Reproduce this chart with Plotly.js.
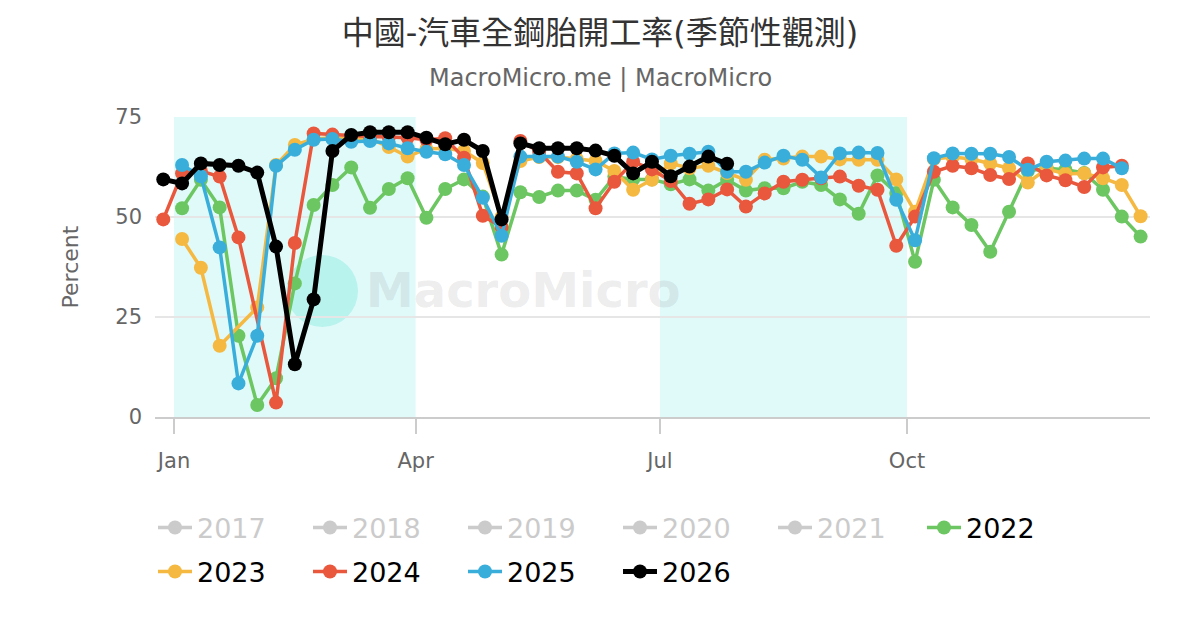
<!DOCTYPE html>
<html>
<head>
<meta charset="utf-8">
<script src="https://cdn.plot.ly/plotly-3.0.1.min.js"></script>
<style>
  html, body { margin: 0; padding: 0; background: #fff; }
  #chart { width: 1200px; height: 630px; }
</style>
</head>
<body>
<div id="chart"></div>
<script>
// weekly observation dates, all years folded onto one calendar
const weeks = [
  '2025-12-28', '2026-01-04', '2026-01-11', '2026-01-18', '2026-01-25',
  '2026-02-01', '2026-02-08', '2026-02-15', '2026-02-22', '2026-03-01',
  '2026-03-08', '2026-03-15', '2026-03-22', '2026-03-29', '2026-04-05',
  '2026-04-12', '2026-04-19', '2026-04-26', '2026-05-03', '2026-05-10',
  '2026-05-17', '2026-05-24', '2026-05-31', '2026-06-07', '2026-06-14',
  '2026-06-21', '2026-06-28', '2026-07-05', '2026-07-12', '2026-07-19',
  '2026-07-26', '2026-08-02', '2026-08-09', '2026-08-16', '2026-08-23',
  '2026-08-30', '2026-09-06', '2026-09-13', '2026-09-20', '2026-09-27',
  '2026-10-04', '2026-10-11', '2026-10-18', '2026-10-25', '2026-11-01',
  '2026-11-08', '2026-11-15', '2026-11-22', '2026-11-29', '2026-12-06',
  '2026-12-13', '2026-12-20', '2026-12-27'
];

const y2022 = [
  null, 52.2, 59.3, 52.4, 20.3, 3.0, 9.7, 33.4, 53.0, 58.0,
  62.4, 52.3, 57.0, 59.7, 49.8, 57.0, 59.4, 55.1, 40.6, 56.2,
  55.0, 56.6, 56.6, 54.3, 60.1, 59.4, 59.4, 58.2, 59.4, 56.6,
  59.3, 56.6, 57.2, 57.2, 58.8, 58.0, 54.4, 50.8, 60.4, 56.0,
  38.8, 59.3, 52.4, 48.0, 41.3, 51.3, 61.5, 62.2, 61.8, 61.0,
  56.8, 50.1, 45.1
];
const y2023 = [
  null, 44.5, 37.3, 17.8, null, 27.4, 63.0, 68.0, 69.5, 69.8,
  69.6, 69.6, 67.5, 65.1, 67.0, 67.2, 66.5, 63.5, 50.0, 64.0,
  65.0, 65.0, 64.5, 64.0, 61.5, 56.8, 59.3, 63.4, 62.2, 62.8,
  61.0, 59.3, 64.3, 64.6, 65.1, 65.1, 64.4, 64.3, 64.3, 59.4,
  51.3, 64.5, 65.0, 64.5, 63.4, 62.2, 58.6, 62.0, 60.8, 60.9,
  59.7, 58.0, 50.2
];
const y2024 = [
  49.4, 60.9, 61.5, 60.1, 44.9, null, 3.6, 43.5, 70.9, 70.6,
  70.3, 70.1, 70.0, 69.8, 69.3, 69.7, 64.8, 50.3, 47.5, 69.0,
  66.3, 61.3, 60.9, 52.2, 58.8, 63.8, 61.9, 59.0, 53.3, 54.4,
  56.9, 52.6, 55.9, 58.8, 59.3, 59.7, 60.1, 57.8, 56.8, 42.8,
  50.1, 61.3, 62.8, 62.2, 60.5, 59.5, 63.4, 60.4, 59.2, 57.5,
  62.4, 62.8, null
];
const y2025 = [
  null, 63.0, 60.2, 42.4, 8.4, 20.3, 62.8, 66.8, 69.3, 69.5,
  68.8, 69.0, 68.4, 67.2, 66.3, 65.7, 63.0, 54.8, 45.3, 65.1,
  65.1, 65.1, 63.8, 61.9, 65.9, 66.1, 64.4, 65.3, 65.8, 66.3,
  61.3, 61.3, 63.6, 65.3, 64.3, 59.9, 65.9, 66.1, 66.0, 54.3,
  44.2, 64.7, 65.9, 65.8, 65.8, 65.0, 61.8, 63.8, 64.1, 64.6,
  64.6, 62.2, null
];
const y2026 = [
  59.4, 58.4, 63.4, 63.0, 62.8, 61.1, 42.6, 13.2, 29.4, 66.5,
  70.5, 71.2, 71.2, 71.2, 69.8, 68.2, 69.3, 66.5, 49.4, 68.4,
  67.2, 67.2, 67.2, 66.6, 65.3, 60.9, 63.8, 60.2, 62.6, 65.1,
  63.3
];

const hiddenYears = ['2017', '2018', '2019', '2020', '2021'];
const shownYears = ['2022', '2023', '2024', '2025', '2026'];
const shownValues = [y2022, y2023, y2024, y2025, y2026];
const colors = ['#6cc661', '#f5b942', '#e9573d', '#3aaedb', '#000000'];

const monthTicks = ['2026-01-01', '2026-04-01', '2026-07-01', '2026-10-01'];
const monthLabels = ['Jan', 'Apr', 'Jul', 'Oct'];
const bands = [['2026-01-01', '2026-04-01'], ['2026-07-01', '2026-10-01']];

const font = 'DejaVu Sans, Noto Sans CJK TC, sans-serif';

// greyed-out years only live in the legend (no values shown)
const traces = hiddenYears.map(yr => ({
  x: [weeks[0]], y: [null],
  type: 'scatter',
  mode: 'lines+markers',
  name: yr,
  visible: 'legendonly',
  legend: 'legend',
  line: { color: '#999999', width: 3.5 },
  marker: { color: '#999999', size: 14 }
}));

shownYears.forEach((yr, i) => {
  traces.push({
    x: weeks,
    y: shownValues[i],
    type: 'scatter',
    mode: 'lines+markers',
    name: yr,
    connectgaps: true,
    legend: i === 0 ? 'legend2' : 'legend3',
    line: { color: colors[i], width: yr === '2026' ? 5 : 3.5 },
    marker: { color: colors[i], size: 14 },
    hovertemplate: '%{x|%b %d}: %{y:.1f}<extra>' + yr + '</extra>'
  });
});

const shapes = bands.map(b => ({
  type: 'rect', xref: 'x', yref: 'paper',
  x0: b[0], x1: b[1], y0: 0, y1: 1,
  fillcolor: '#e0fafa', line: { width: 0 }, layer: 'below'
}));
// watermark logo
shapes.push({
  type: 'circle', xref: 'paper', yref: 'paper',
  x0: 0.132, x1: 0.204, y0: 0.30, y1: 0.54,
  fillcolor: 'rgba(110,228,212,0.35)', line: { width: 0 }, layer: 'below'
});

const legendBase = {
  orientation: 'h',
  xref: 'container', yref: 'container',
  xanchor: 'left', yanchor: 'middle',
  entrywidth: 106,
  itemwidth: 34,
  bgcolor: 'rgba(0,0,0,0)',
  tracegroupgap: 0
};

const layout = {
  width: 1200,
  height: 630,
  paper_bgcolor: '#ffffff',
  plot_bgcolor: '#ffffff',
  margin: { l: 155, r: 50, t: 117, b: 213 },
  font: { family: font, color: '#666666' },
  title: {
    text: '中國-汽車全鋼胎開工率(季節性觀測)',
    font: { family: font, size: 32, color: '#333333' },
    x: 0.5, xanchor: 'center',
    y: 1 - 33 / 630, yanchor: 'middle', yref: 'container'
  },
  annotations: [
    {
      text: 'MacroMicro.me | MacroMicro',
      xref: 'paper', yref: 'paper',
      x: (600 - 155) / 995, y: (417 - 78) / 300,
      xanchor: 'center', yanchor: 'middle',
      showarrow: false,
      font: { family: font, size: 24, color: '#666666' }
    },
    {
      text: '<b>MacroMicro</b>',
      xref: 'paper', yref: 'paper',
      x: 0.37, y: 0.425,
      xanchor: 'center', yanchor: 'middle',
      showarrow: false,
      font: { family: font, size: 48, color: 'rgba(120,120,120,0.15)' }
    }
  ],
  xaxis: {
    type: 'date',
    range: ['2025-12-24 22:00', '2026-12-30 12:00'],
    tickmode: 'array',
    tickvals: monthTicks,
    ticktext: monthLabels,
    ticks: 'outside',
    ticklen: 15,
    tickwidth: 1.5,
    tickcolor: '#cccccc',
    ticklabelstandoff: 9,
    tickfont: { family: font, size: 21, color: '#666666' },
    showgrid: false,
    showline: true,
    linecolor: '#cccccc',
    linewidth: 1.5,
    zeroline: false,
    fixedrange: true
  },
  yaxis: {
    range: [0, 75],
    tickvals: [0, 25, 50, 75],
    showgrid: true,
    gridcolor: '#e6e6e6',
    gridwidth: 1.5,
    zeroline: false,
    showline: false,
    ticks: '',
    ticklabelstandoff: 12,
    tickfont: { family: font, size: 21, color: '#666666' },
    title: {
      text: 'Percent',
      font: { family: font, size: 22, color: '#666666' },
      standoff: 30
    },
    fixedrange: true
  },
  shapes: shapes,
  showlegend: true,
  legend: Object.assign({}, legendBase, {
    x: 153 / 1200, y: 1 - 528 / 630,
    font: { family: font, size: 27, color: '#999999' }
  }),
  legend2: Object.assign({}, legendBase, {
    x: 922 / 1200, y: 1 - 528 / 630,
    font: { family: font, size: 27, color: '#000000' }
  }),
  legend3: Object.assign({}, legendBase, {
    x: 153 / 1200, y: 1 - 572 / 630,
    font: { family: font, size: 27, color: '#000000' }
  })
};

Plotly.newPlot('chart', traces, layout, { displayModeBar: false });
</script>
</body>
</html>
